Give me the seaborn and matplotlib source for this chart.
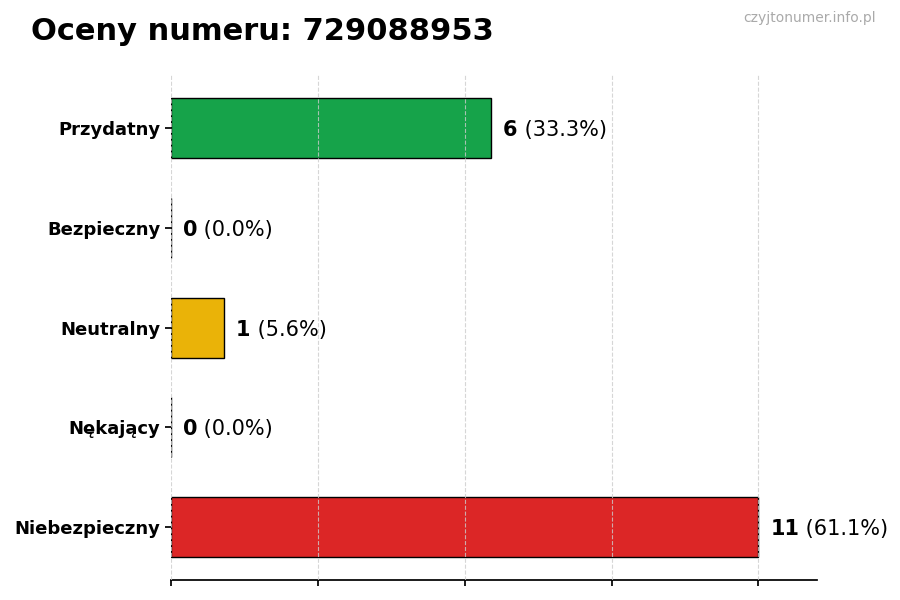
import matplotlib
matplotlib.use("Agg")
import matplotlib.pyplot as plt
import seaborn as sns
import pandas as pd

categories = ["Przydatny", "Bezpieczny", "Neutralny", "Nękający", "Niebezpieczny"]
counts = [6, 0, 1, 0, 11]
colors = ["#16a34a", "#9ca3af", "#eab308", "#f97316", "#dc2626"]
title = "Oceny numeru: 729088953"
watermark = "czyjtonumer.info.pl"

sns.set_theme(style="white")
plt.rcParams["font.family"] = ["DejaVu Sans"]
plt.rcParams["text.color"] = "black"
plt.rcParams["xtick.color"] = "black"
plt.rcParams["ytick.color"] = "black"
plt.rcParams["axes.labelcolor"] = "black"

total = sum(counts)
df = pd.DataFrame({"cat": categories, "n": counts})

fig = plt.figure(figsize=(9, 6), dpi=100)
ax = fig.add_axes([0.19, 0.033, 0.718, 0.842])

sns.barplot(data=df, y="cat", x="n", hue="cat", palette=colors, legend=False,
            orient="h", width=0.6, edgecolor="black", linewidth=1, saturation=1, ax=ax)

xmax = max(counts) * 1.1
ax.set_xlim(0, xmax)
ax.set_ylim(len(categories) - 1 + 0.53, -0.53)
ax.set_xticks([max(counts) * f for f in (0, 0.25, 0.5, 0.75, 1.0)])
ax.set_xticklabels([])
ax.set_xlabel("")
ax.set_ylabel("")
ax.grid(axis="x", linestyle="--", color="#cccccc", alpha=0.8, linewidth=0.8)
ax.set_axisbelow(False)
for s in ("top", "right", "left"):
    ax.spines[s].set_visible(False)
ax.spines["bottom"].set_color("black")
ax.tick_params(axis="x", length=4.5, color="black", bottom=True)
ax.tick_params(axis="y", length=4, color="black", left=True, labelsize=13, labelcolor="black")
for lbl in ax.get_yticklabels():
    lbl.set_fontweight("bold")

for i, v in enumerate(counts):
    pct = v / total * 100
    t = ax.text(v + max(counts) * 0.02, i, f"{v}", fontsize=15, fontweight="bold",
                va="center_baseline", ha="left", color="black")
    ax.annotate(f" ({pct:.1f}%)", xy=(1, 0.5), xycoords=t, va="center", ha="left",
                fontsize=15, color="black")

fig.text(0.034, 0.948, title, fontsize=22, fontweight="bold", ha="left", va="center",
         color="black")
fig.text(0.973, 0.97, watermark, fontsize=10, color="#aaaaaa", ha="right", va="center")

fig.savefig("out.png", dpi=100)
